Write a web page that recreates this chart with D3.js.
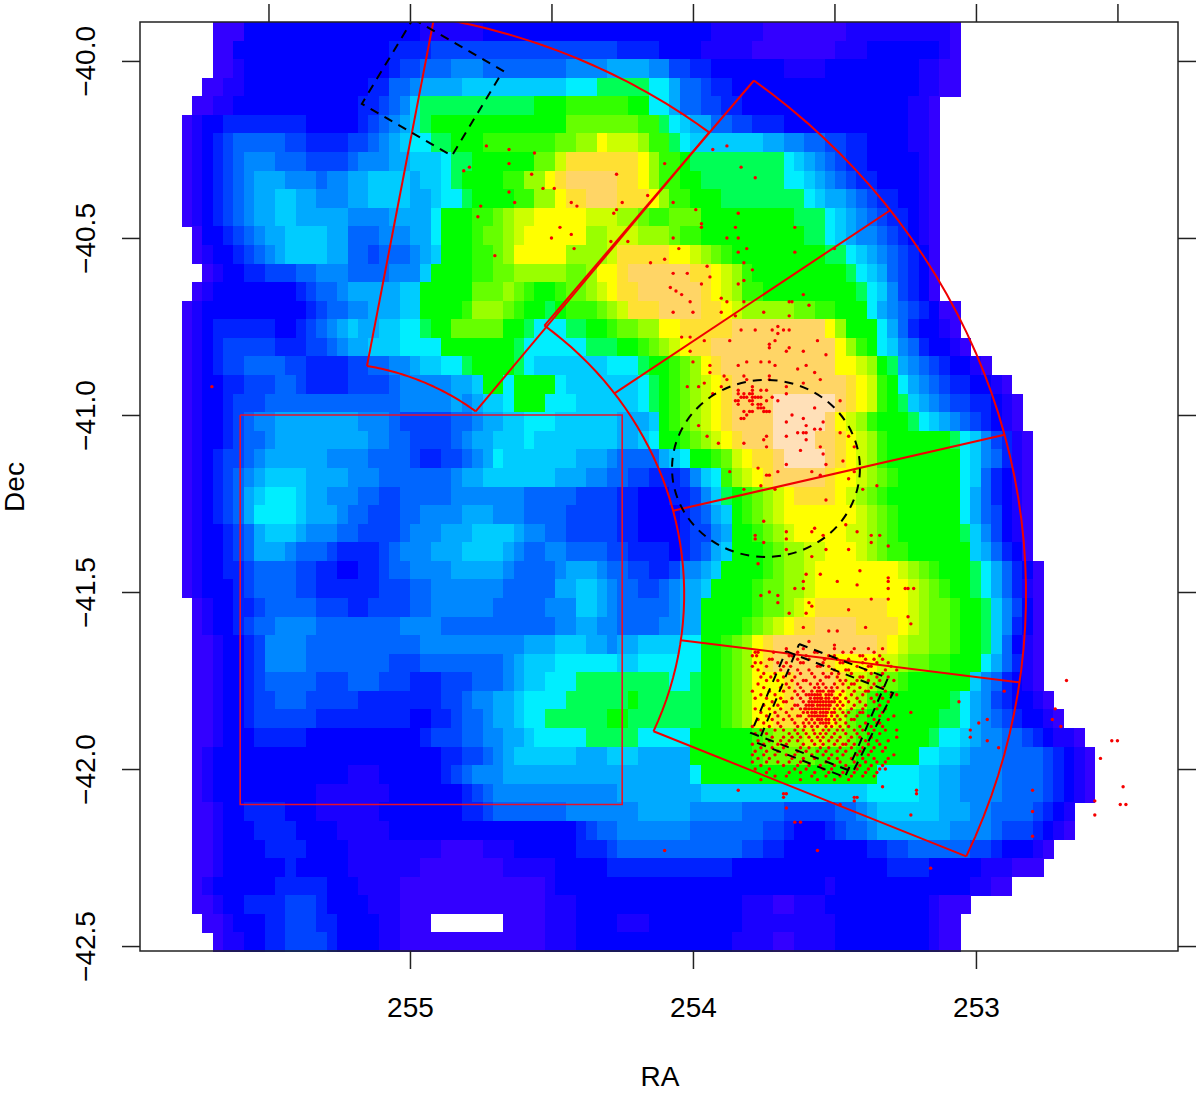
<!DOCTYPE html>
<html>
<head>
<meta charset="utf-8">
<script src="https://cdn.jsdelivr.net/npm/d3@7"></script>
<style>
  html, body { margin: 0; background: #fff; }
  text { font-family: "Liberation Sans", Arial, sans-serif; fill: #000; }
</style>
</head>
<body>
<svg width="1200" height="1093"></svg>
<script>
// density levels, low to high ("." = no data)
var levelKeys = "abcdefghijklmnopqrst".split("");
var levelColors = ["#3300ff","#1a00ff","#0000ff","#0022ff","#0044ff","#0066ff","#0088ff","#00aaff","#00ccff","#00eeff",
  "#00ff55","#00ff00","#33ff00","#66ff00","#99ff00","#ccff00","#ffff00","#ffe033","#ffd566","#ffe0b8"];

// one string per map row, top to bottom: level letter + last column (of 100) it runs to
var densityRows = [
".7 a10 c27 b33 c55 b60 a68 b78 a79 .100",
".7 a9 c24 d28 e46 d50 c54 b59 a67 b70 c77 b78 a79 .100",
".7 a9 b10 c24 d25 e27 f30 g33 f41 g45 h49 g51 e53 d55 c62 b66 c75 b77 a79 .100",
".6 a8 b10 c22 d24 f26 g27 h31 i41 j44 k49 j51 h52 f54 e55 d57 c75 b77 a79 .100",
".5 a7 b9 c21 d23 e24 f25 g26 i27 k38 l41 m47 l49 j51 h52 f54 e56 d58 c74 b76 a77 .100",
".4 a5 b6 c8 d16 c21 d22 e23 f24 g25 h26 i27 k28 l41 n48 m50 k51 j52 i53 h55 f57 e59 d62 c74 b76 a77 .100",
".4 a5 b6 c7 d8 e9 f14 e16 d20 e22 f23 g24 h25 i26 j28 k30 l33 m40 n42 o44 q45 p48 o49 m51 k52 j53 i60 h62 g64 f66 e68 d70 c74 b76 a77 .100",
".4 a5 b6 c7 d8 e9 f10 g13 f16 e20 f21 g24 h26 i29 j30 k32 l38 n40 p41 r48 q49 o50 m52 l53 k62 j63 i64 h65 g66 f67 e68 d70 c75 b76 a77 .100",
".4 a5 b6 c7 d8 e9 f10 g11 h14 g17 f18 g20 h22 i26 h27 i29 j30 k31 l35 m37 o39 q40 r41 s46 r48 q49 o50 m52 l54 k62 j64 i65 h66 g67 f68 e69 d71 c75 b76 a77 .100",
".4 a5 b6 c7 d8 e9 f10 g11 h13 i15 h17 g20 h22 i26 h28 i29 j31 k32 l36 m38 o40 q41 r43 s46 r49 q50 o51 m53 l56 k64 j65 i66 h68 g69 f70 e71 d73 c75 b76 a77 .100",
".4 a5 b6 c7 d8 e9 f10 g11 h13 i15 h20 g24 h28 j29 l32 m34 n35 o36 p38 q43 p46 o48 n49 m51 n54 l63 k66 j67 i68 h69 g70 f71 e72 d74 c75 b76 a77 .100",
".5 a6 c8 d9 e10 f11 g12 h14 i18 h20 f23 g26 h28 j29 l32 m33 n35 o36 p37 q43 o45 p48 o51 n52 m54 l64 k66 j67 i68 h69 g71 f72 e73 d74 c75 b76 a77 .100",
".5 a6 b7 c9 d10 e11 f12 g13 h14 i18 h20 f22 e23 f26 g27 h28 i29 l32 m34 n35 o36 q41 o45 p46 r51 q53 p54 o55 n56 m57 l66 k68 j69 i70 h71 g72 f73 e74 d75 c76 a77 .100",
".6 a7 b8 c10 d12 e15 f17 g20 f24 g27 i28 l32 m34 n36 o41 n43 o44 q46 r47 s53 r55 q56 p57 o58 m59 l68 k69 j70 i71 h72 f73 e74 d75 c76 a77 .100",
".5 a6 b7 c15 d16 e17 f19 g20 h25 i27 l32 n35 o36 n37 m38 l40 m41 n43 o44 p45 q46 r48 s54 r55 q56 p57 o58 m60 l69 k70 j71 i72 g73 e74 d75 c76 a77 .100",
".4 a5 b6 c16 d17 e18 f20 g22 h25 i27 l31 m32 o35 n36 m37 l39 k40 l41 m44 n45 o46 p47 r50 s54 r56 q57 p58 o63 n65 m67 l70 j71 h72 g73 f74 e75 d76 c77 a79 .100",
".4 a5 b6 c7 d13 c15 d16 e17 f18 g19 h20 i21 h23 i25 j27 k28 l30 n35 l37 k38 j41 k43 l45 m46 n48 o50 q52 r57 s66 q67 o68 l71 j72 h73 f74 d75 c77 b78 a79 .100",
".4 a5 b6 c7 d8 e13 d16 e18 f19 g20 h22 i25 j29 l36 k37 j43 k46 l48 m49 n50 o51 p52 q53 r55 s67 q68 o69 m70 l71 j72 i73 g74 f75 d76 c78 b79 a80 .100",
".4 a5 b6 c7 d8 e10 f14 e16 d20 e22 f24 g26 h27 i29 j31 k32 l36 k37 j38 i45 j48 k49 l51 m52 n53 o54 q55 r56 s67 q69 p70 o71 l72 k73 h74 g75 f76 e77 d78 c80 b81 a82 .100",
".4 a5 b6 c8 d10 e13 f15 e16 d20 e24 f25 g30 h32 i33 l35 j36 l40 j41 i48 j49 k50 l51 m52 n53 o54 p55 q56 r57 s68 r69 q70 p71 o71 m72 l73 j74 h75 g76 f77 e78 d80 c82 b83 a84 .100",
".4 a5 b6 c8 d9 e12 f25 g30 h31 g32 h33 i35 j36 l39 j42 i48 j49 k50 l51 m52 n53 o54 p55 q56 r57 s61 t67 s68 r69 q70 p71 m72 l73 k74 i75 h76 g77 f78 e80 d82 c83 b84 a85 .100",
".4 a5 b6 c8 d9 e10 f11 g13 h21 g24 f25 e30 f32 g33 h35 i37 j40 i46 h49 i50 l51 m52 n53 o54 p55 q56 r57 s61 t66 s67 q68 p69 o70 m71 l74 k75 j76 i77 h78 g79 f80 e81 d82 c83 b84 a85 .100",
".4 a5 b6 c8 d9 e10 f12 g13 h22 g24 f26 e30 f31 g32 h34 i37 j38 i46 h48 i49 j50 l52 m53 n54 o55 p56 q57 r58 s61 t65 s67 r68 q69 p70 o71 m72 l78 k79 j80 i81 g82 e83 d84 b85 a86 .100",
".4 a5 b6 c7 d8 e10 f11 g12 h18 g22 f26 e27 d29 e31 f32 g33 h34 j35 i42 h45 g46 f50 h51 i52 j53 l55 m56 n57 p58 q59 r61 s62 t66 s67 r68 q69 p70 o71 m72 l79 j80 i81 g82 f83 d84 b85 a86 .100",
".4 a5 b6 c7 d8 e9 f10 g11 h12 i16 h20 g23 f30 g31 h33 i40 h43 g45 f47 e49 d52 e53 g54 i55 j56 m57 o58 p59 q60 r61 s66 r67 q69 p70 o71 n72 m73 l79 j80 i81 f82 d83 c84 b85 a86 .100",
".4 a5 b6 c7 d8 e9 f10 h11 i12 j15 i16 h18 g21 f23 e25 f30 g37 f42 e46 d48 c51 d53 e54 g55 i56 k57 l58 m59 n60 o61 p62 q63 r67 q68 p69 o70 n71 m72 l79 j80 h81 f82 d83 c84 b85 a86 .100",
".4 a5 b6 c7 d8 e9 f10 h11 j15 i16 h19 g20 f22 e25 f27 g31 h34 g37 f41 e46 d48 c52 d53 e54 f55 h56 i57 l58 m59 n60 o61 p62 q69 p70 o71 n72 m73 l79 j80 h81 f82 e83 c84 b85 a86 .100",
".4 a5 b6 c8 d9 e10 f11 h12 i15 h16 g19 f21 e25 f26 g29 h32 i36 h37 g39 f41 e46 d48 c52 d53 e55 g56 h57 l59 m60 n61 o62 p63 q68 p70 o71 n72 m73 l79 k80 i81 g82 e83 c84 b85 a86 .100",
".4 a5 b6 c8 d9 e10 f11 h14 g15 f18 e19 d23 e24 f25 g28 h31 i35 h36 g37 f39 g41 f45 e47 d51 c52 d53 e54 f55 h56 i57 l60 m61 n62 o64 p66 q69 p70 o71 n72 m74 l80 i81 h82 f83 d84 c85 a86 .100",
".4 a5 b6 c8 d10 e11 f15 e17 d19 c21 d23 e24 f26 g30 h35 g36 f40 g41 h44 g45 f47 e49 d51 e52 g54 h55 i56 l60 m61 n62 o64 p65 q73 p74 o75 n76 m77 l80 k81 j82 h83 f84 d85 c86 a87 .100",
".4 a5 b6 c9 d10 e11 f15 e17 d23 e26 f28 g35 f40 h42 i44 h45 g46 f48 e50 f51 g52 h54 i55 l59 m60 n62 o64 p65 q74 p75 o76 n77 m78 l80 k81 j82 h83 f84 d85 b86 a87 .100",
".5 a6 b7 c9 d11 e12 f17 e20 d22 e26 f28 g34 f39 g42 i44 h45 g46 f51 g52 h54 l59 m60 n62 o63 p64 q65 r72 q74 p75 o76 n78 m79 l81 k82 i83 g84 e85 c86 a87 .100",
".5 a6 b7 c9 d10 e11 f13 g17 f25 g29 f40 g42 h44 g46 f50 g52 h54 l58 m59 n60 o61 p62 q63 r65 s69 r73 q74 p75 o76 n78 m79 l81 k82 i83 g84 d85 c86 a87 .100",
".5 a7 b8 c10 d11 e12 g16 f27 g37 h40 i43 h45 g46 h48 i52 j54 l56 m57 n58 o59 q60 r61 s71 r72 q73 p74 o76 n78 m79 l81 k82 i83 f84 c85 b86 a87 .100",
".5 a7 b8 c10 d11 e12 g16 f24 e27 f35 g36 h37 i40 j46 i48 j54 l56 m57 n58 o59 q60 r61 s66 r67 q71 p73 o74 n76 m78 l81 j82 h83 f84 d85 b86 a87 .100",
".5 a7 b8 c10 d11 e12 f17 e20 f23 e26 d29 e32 f35 g36 h37 i39 j42 k51 j53 k54 l56 m57 n58 o59 q62 r63 s67 r68 p70 o71 n73 m74 l80 i81 g82 f83 d84 c85 b86 a87 .100",
".5 a7 b8 c10 d11 e13 f16 e21 d29 e31 f32 g34 h36 i37 j41 k47 l48 k54 l56 m57 n58 o59 q62 r63 s65 r67 q68 p69 o70 m71 l78 k79 j80 h81 g82 e83 d84 c86 b87 a88 .100",
".5 a7 b8 c10 d11 e17 d26 c28 d30 e31 f33 g34 h36 i37 j39 k45 l47 k54 l56 m57 n58 o59 q61 r66 q67 p68 n69 m70 l77 k79 j80 h81 g82 f83 e84 d85 c87 b88 a89 .100",
".5 a7 b8 c11 d16 c27 d28 e31 f33 g35 h37 i38 j43 k48 j53 l59 m60 n61 o64 p66 o68 n69 m70 l76 k77 j79 i80 h81 g83 f85 e86 d87 c88 b90 a91 .100",
".5 a6 b7 c29 d31 e33 f34 g35 h36 i42 h45 i48 h53 l59 m60 n65 m69 l75 j77 i79 h80 g83 f87 e88 d89 c90 b91 a92 .100",
".5 a6 b7 c20 b23 c29 d30 e31 f32 g35 h53 j54 l71 j75 i77 h79 g83 f87 e88 d89 c90 b91 a92 .100",
".5 a6 b7 c17 b24 c31 d32 e33 f34 g46 h54 i70 j75 i77 h79 g83 f87 e88 d89 c90 b91 a92 .100",
".5 a7 b8 c10 d14 c17 b23 c31 d33 e34 f41 g48 h53 g58 f62 e67 f69 g70 h71 i77 h80 g82 f86 e87 d88 c89 b90 .100",
".5 a7 b8 c11 d15 c19 b24 c42 d43 e44 f46 g53 f60 e62 d63 c66 d67 e68 f70 g71 h78 g82 f83 e86 d87 c88 b89 a90 .100",
".5 a7 b8 c12 d16 c20 b29 a33 b36 c42 d45 e46 f58 e60 d62 c70 d72 e74 f80 e82 d83 c86 b87 a88 .100",
".5 a7 b8 c14 d15 c20 b27 a35 b40 c45 d57 c72 d76 c81 b84 a87 .100",
".5 a6 b7 c13 d18 c21 b25 a39 b40 c66 b67 c80 b82 a84 .100",
".5 a7 b8 c10 d14 e17 d18 c22 b25 a39 b42 c58 b61 a63 b66 c76 b77 a80 .100",
".6 a8 b9 c12 d14 e17 d19 c23 b25 a28 .35 a39 b42 c46 b49 c58 b63 b67 c76 b77 a79 .100",
".7 a8 b10 c12 d14 e18 d19 c23 b25 a39 b42 c57 b61 a63 b67 c76 b77 a79 .100"
];

var raTicks = [255, 254, 253];
var raMinorTicks = [255.5, 255, 254.5, 254, 253.5, 253, 252.5];
var decTicks = [-40, -40.5, -41, -41.5, -42, -42.5];

var controlBox = [[255.60,-41.0],[254.25,-41.0],[254.25,-42.10],[255.60,-42.10],[255.60,-41.0]];

// fan of regions: common centre, [ra, dec] radii of each arc, angles of the spokes in degrees
var fanCenter = [255.307, -41.506];
var mainOuter = [2.484, 1.836];
var mainInner = [1.276, 0.96];
var upperOuter = [2.216, 1.655];
var upperInner = [0.876, 0.655];
var mainAngles = [52.2, 36.2, 14.2, -7.8, -23.8];
var upperAngles = [79.8, 52];

var dashedBoxes = [
  [[254.989,-39.881],[254.671,-40.028],[254.852,-40.268],[255.170,-40.121],[254.989,-39.881]],
  [[253.625,-41.647],[253.311,-41.743],[253.463,-42.023],[253.770,-41.927],[253.625,-41.647]],
  [[253.671,-41.667],[253.293,-41.785],[253.435,-42.008],[253.795,-41.898],[253.671,-41.667]]
];
var dashedCircle = {ra: 253.742, dec: -41.151, raRadius: 0.332, decRadius: 0.25};

var fieldStars = [
[254.73,-40.24],[254.65,-40.25],[254.56,-40.26],[254.81,-40.31],[254.79,-40.30],[254.65,-40.29],[254.57,-40.32],[254.65,-40.37],[254.63,-40.40],[254.75,-40.41],[254.76,-40.44],[254.70,-40.55],
[253.93,-40.25],[253.88,-40.24],[254.10,-40.29],[253.83,-40.30],[253.78,-40.33],[254.27,-40.32],[254.53,-40.36],[254.49,-40.36],[254.43,-40.40],[254.41,-40.41],[254.25,-40.40],[254.27,-40.42],[254.28,-40.43],[254.16,-40.38],[254.07,-40.40],[253.99,-40.42],[253.84,-40.43],[253.97,-40.46],[253.97,-40.47],[253.85,-40.47],[253.64,-40.47],[254.47,-40.47],[254.43,-40.49],[254.50,-40.50],[254.29,-40.51],[254.23,-40.51],[254.07,-40.50],[253.88,-40.50],[253.84,-40.50],[254.42,-40.53],[254.05,-40.53],[253.84,-40.54],[253.81,-40.53],[253.64,-40.54],[253.50,-40.53],[254.10,-40.56],[254.15,-40.57],[253.82,-40.57],[253.79,-40.59],[253.95,-40.58],[254.07,-40.60],[254.02,-40.60],[253.94,-40.61],[253.97,-40.63],[253.84,-40.63],[253.82,-40.62],[254.08,-40.64],[254.06,-40.65],[254.04,-40.66],[253.61,-40.66],[253.90,-40.67],[254.01,-40.68],[253.88,-40.68],[253.82,-40.68],[253.66,-40.68],[253.65,-40.68],[253.59,-40.69],[254.07,-40.71],[254.00,-40.71],[253.90,-40.71],[253.85,-40.72],[253.75,-40.71],[253.66,-40.72],
[253.83,-40.76],[253.78,-40.76],[253.72,-40.76],[253.70,-40.75],[253.70,-40.77],[253.68,-40.76],[253.66,-40.76],[254.04,-40.78],[254.01,-40.78],[253.96,-40.79],[253.87,-40.79],[253.71,-40.79],[253.56,-40.79],[253.73,-40.80],[253.73,-40.81],[253.66,-40.81],[253.67,-40.82],[253.61,-40.82],[254.01,-40.82],[253.53,-40.83],[254.00,-40.85],[253.76,-40.85],[253.73,-40.85],[253.84,-40.86],[253.81,-40.85],[253.71,-40.86],[253.94,-40.86],[253.63,-40.87],[253.60,-40.86],[253.94,-40.88],[253.57,-40.88],[253.89,-40.89],[253.88,-40.90],[253.82,-40.89],[253.81,-40.90],[253.73,-40.89],[253.73,-40.90],[253.96,-40.91],[253.55,-40.90],[253.90,-40.92],[253.61,-40.91],[253.67,-40.92],[254.02,-40.92],[253.98,-40.92],[253.67,-40.94],[253.93,-40.94],
[253.84,-40.94],[253.84,-40.93],[253.82,-40.94],[253.83,-40.95],[253.84,-40.96],[253.85,-40.96],[253.84,-40.97],[253.82,-40.95],[253.81,-40.95],[253.80,-40.96],[253.79,-40.92],[253.79,-40.93],[253.79,-40.94],[253.80,-40.94],[253.79,-40.95],[253.78,-40.95],[253.77,-40.95],[253.76,-40.95],[253.79,-40.96],[253.79,-40.97],[253.77,-40.97],[253.76,-40.97],[253.75,-40.98],[253.77,-40.98],[253.76,-40.98],[253.79,-40.99],[253.80,-40.99],[253.81,-41.00],[253.82,-40.99],[253.82,-41.01],[253.83,-41.01],[253.76,-40.93],[253.74,-40.93],[253.74,-40.96],[253.75,-40.99],[253.73,-40.99],[253.72,-40.95],[253.70,-40.96],[253.74,-40.99],
[253.48,-40.96],[253.57,-40.98],[253.65,-41.00],[253.61,-41.01],[253.67,-41.02],[253.54,-41.02],[253.60,-41.03],[253.98,-41.03],[253.57,-41.04],[253.55,-41.04],[253.61,-41.05],[253.63,-41.05],[253.60,-41.05],[253.48,-41.05],[253.45,-41.06],[253.95,-41.06],[253.74,-41.06],[253.75,-41.07],[253.67,-41.06],[253.60,-41.07],[253.91,-41.08],[253.82,-41.08],[253.43,-41.09],[253.74,-41.09],[253.55,-41.09],[253.62,-41.10],[253.54,-41.11],[253.53,-41.14],[253.47,-41.13],[253.67,-41.14],[253.77,-41.15],[253.43,-41.16],[253.87,-41.16],[253.70,-41.16],[253.58,-41.16],[253.74,-41.17],[253.73,-41.17],[253.55,-41.17],[253.45,-41.18],[253.35,-41.20],[253.76,-41.20],[253.40,-41.21],[253.82,-41.21],[253.71,-41.21],[253.53,-41.24],
[253.75,-41.30],[253.46,-41.31],[253.42,-41.33],[253.57,-41.32],[253.58,-41.33],[253.67,-41.33],[253.34,-41.34],[253.37,-41.34],[253.78,-41.34],[253.54,-41.34],[253.67,-41.35],[253.78,-41.35],[253.75,-41.36],[253.37,-41.36],[253.53,-41.38],[253.45,-41.38],[253.67,-41.38],[253.31,-41.37],[253.58,-41.40],[253.77,-41.42],[253.41,-41.44],[253.60,-41.45],[253.55,-41.45],[253.49,-41.47],[253.31,-41.46],[253.31,-41.47],[253.61,-41.47],[253.42,-41.48],[253.61,-41.49],[253.64,-41.49],[253.73,-41.50],[253.70,-41.51],[253.31,-41.49],[253.24,-41.49],[253.25,-41.49],[253.22,-41.49],[253.76,-41.51],[253.37,-41.52],[253.31,-41.52],[253.70,-41.53],[253.59,-41.53],[253.58,-41.54],[253.45,-41.55],[253.66,-41.56],[253.60,-41.56],[253.24,-41.57],[253.23,-41.59],[253.39,-41.60],[253.61,-41.60],[253.52,-41.61],[253.49,-41.61],[253.59,-41.64],[253.50,-41.65],[253.33,-41.66],
[252.68,-41.75],[252.90,-41.78],[253.06,-41.81],[253.23,-41.84],[252.99,-41.87],[252.96,-41.86],[253.02,-41.89],[253.02,-41.91],[252.96,-41.92],[252.92,-41.94],[252.72,-41.83],[252.73,-41.86],[252.70,-41.88],[252.50,-41.92],[252.52,-41.92],[252.56,-41.97],[252.48,-42.05],[252.58,-42.09],[252.49,-42.10],[252.47,-42.10],[252.58,-42.13],[252.80,-42.06],[252.80,-42.12],[252.80,-42.19],[253.21,-42.06],[253.21,-42.07],[253.33,-42.05],[253.43,-42.08],[253.43,-42.09],[253.42,-42.08],[253.23,-42.13],[253.48,-42.10],[253.62,-42.15],[253.56,-42.23],[253.16,-42.28],[253.32,-42.00],[253.28,-41.89],[253.28,-41.79],[253.84,-42.06],[253.68,-42.07],[253.67,-42.07],[253.68,-42.08],[253.67,-42.11],[253.64,-42.15],[254.10,-42.23],[253.76,-42.03],[255.70,-40.92]
];

// dense cluster: dec of each band, and RA of its stars in hundredths of a degree above 253
var clusterDec = [-41.66,-41.67,-41.68,-41.69,-41.70,-41.71,-41.72,-41.73,-41.74,-41.75,-41.76,-41.77,-41.78,-41.79,-41.80,-41.81,-41.82,-41.83,-41.84,-41.85,-41.86,-41.87,-41.88,-41.89,-41.90,-41.91,-41.92,-41.93,-41.94,-41.95,-41.96,-41.97,-41.98,-41.99,-42.00,-42.01,-42.02,-42.03];
var clusterRa = [
[67,61,50,43,38],
[78,77,71.5,63,57,56,47,44,36],
[79,77.5,66,65,60,52,50,41,40,34],
[73,72,63,59,53.5,49,45,39,36,33],
[78,76,70,67,62,61,54,48,47,40,35,31],
[79,74,68,65.5,56,55,52,42,38,37,30],
[77,69,63,59,50,46,45,39,32,28],
[75,71,66,62,58,54,51,48.5,44,37,33],
[76,72.5,68,64,57,53,52,49,41,40,35,31],
[74,70,65,61,60,55,48,46,42,38,34,29],
[77,67,63,58.5,56,54,50,47,44,43,36],
[75,69,66,62,57,55.5,53,51,49,45,41,37,33],
[79,73,68,64,61,58,56,55,54,52,51,50.5,47,43,39,38,32],
[76,71,63,60,59,58,57,56,55,53,52,51,48,44,40,35,30],
[78,74,69,65,62,58.5,57,56,55,54.5,53,52,50,49,46,42,37,33],
[72,68,67,61,59,58,57,56,55,54,53,52,51,50,48,45,41,36,31],
[75,70,64,63,60,59,58,57.5,56,55,54,53,52,51.5,49,47,43,39,34],
[78,73,69,65,62,60.5,60,59,58,57,56,55,54,53,52,50,48,44,40,35,32],
[76,71,67,61,59.5,58,57,56.5,55,54,53,52.5,51,50,47,45,41,40,33],
[74,70,66,63,62,59,58,57,56,55,54,53,51,49,46,42,38,34,29],
[77,72,68,65,60,58,56,55.5,54.5,53,52,50,48,44,43,36,31],
[75,70,64,61,59,57,55,54,53,52,49.5,46,39,35,34],
[79,73,69,63,60.5,58,56,53,51,48,45,41,37,33],
[76,71,68,64,61,57.5,54,52,49,47,43,40,36,32],
[78,74,66,63,60,57,55,53,50,46,42,38,34],
[72,68,65,62,59,56,54,51,48,44,41,37,28],
[77,73,69,66,63,58,55,52,49,45,39,35,31],
[79,75,70,67,61,57,54,50,47,46,43,38,34],
[76,72,68,62,59,55,52,48,44,40,36,32],
[78,74,70,63,60,56,53,49,46,41,37,33],
[79,75,71,67,64,58,54,51,47,42,38,29],
[77,73,65,61,57,52,49,44,40,36,31],
[79,74,70,66,62,53,48,43,39,35,32],
[76,68,63,59,55,50,46,41,37,33],
[78,73,64,60,54,51,45,42,38,34],
[74,66,62,57,52,47,43,39,35],
[71,67,58,53,48,44,40,36],
[62,56,50,45]
];

var svg = d3.select("svg");

var x = d3.scaleLinear().domain([255.954, 252.286]).range([140, 1178]);
var y = d3.scaleLinear().domain([-39.89, -42.514]).range([22, 951]);
var color = d3.scaleOrdinal(levelKeys, levelColors);

var colBand = d3.scaleBand().domain(d3.range(100)).range([140, 1178]);
var rowBand = d3.scaleBand().domain(d3.range(densityRows.length)).range([22, 951]);

// expand "a10 c27 ..." into one cell per column
function expandRow(str, r) {
  var cells = [], col = 0;
  str.split(" ").forEach(function(run) {
    var level = run[0], end = +run.slice(1);
    for (; col < end; col++) {
      if (level !== ".") cells.push({row: r, col: col, level: level});
    }
  });
  return cells;
}
var cells = d3.merge(densityRows.map(expandRow));

svg.append("g")
    .attr("shape-rendering", "crispEdges")
  .selectAll("rect")
  .data(cells)
  .enter().append("rect")
    .attr("x", function(d) { return colBand(d.col); })
    .attr("y", function(d) { return rowBand(d.row); })
    .attr("width", colBand.bandwidth() + 0.5)
    .attr("height", rowBand.bandwidth() + 0.5)
    .attr("fill", function(d) { return color(d.level); });

svg.append("defs").append("clipPath")
    .attr("id", "plot")
  .append("rect")
    .attr("x", 140).attr("y", 22).attr("width", 1038).attr("height", 929);

var overlay = svg.append("g").attr("clip-path", "url(#plot)");

var sky = d3.line().x(function(d) { return x(d[0]); }).y(function(d) { return y(d[1]); });

function redPath(points, width, stroke) {
  overlay.append("path")
    .attr("d", sky(points))
    .attr("fill", "none")
    .attr("stroke", stroke || "#f00000")
    .attr("stroke-width", width);
}

function fanPoint(radius, deg) {
  var t = deg * Math.PI / 180;
  return [fanCenter[0] - radius[0] * Math.cos(t), fanCenter[1] + radius[1] * Math.sin(t)];
}
function fanArc(radius, a0, a1) {
  return d3.range(41).map(function(i) { return fanPoint(radius, a0 + (a1 - a0) * i / 40); });
}

redPath(controlBox, 1.6, "#e8102a");
redPath(fanArc(mainOuter, mainAngles[0], mainAngles[4]), 2);
redPath(fanArc(mainInner, mainAngles[0], mainAngles[4]), 2);
mainAngles.forEach(function(a) { redPath([fanPoint(mainInner, a), fanPoint(mainOuter, a)], 2); });
redPath(fanArc(upperOuter, upperAngles[0], upperAngles[1]), 2);
redPath(fanArc(upperInner, upperAngles[0], upperAngles[1]), 2);
upperAngles.forEach(function(a) { redPath([fanPoint(upperInner, a), fanPoint(upperOuter, a)], 2); });

// stars
var clusterStars = d3.merge(clusterRa.map(function(list, i) {
  return list.map(function(v) { return [253 + v / 100, clusterDec[i]]; });
}));

overlay.append("g").selectAll("circle")
  .data(fieldStars.concat(clusterStars))
  .enter().append("circle")
    .attr("cx", function(d) { return x(d[0]); })
    .attr("cy", function(d) { return y(d[1]); })
    .attr("r", 1.7)
    .attr("fill", "#f50000");

dashedBoxes.forEach(function(b) {
  overlay.append("path")
    .attr("d", sky(b))
    .attr("fill", "none")
    .attr("stroke", "#000")
    .attr("stroke-width", 2)
    .attr("stroke-dasharray", "9,7");
});

overlay.append("ellipse")
    .attr("cx", x(dashedCircle.ra))
    .attr("cy", y(dashedCircle.dec))
    .attr("rx", Math.abs(x(dashedCircle.ra + dashedCircle.raRadius) - x(dashedCircle.ra)))
    .attr("ry", Math.abs(y(dashedCircle.dec + dashedCircle.decRadius) - y(dashedCircle.dec)))
    .attr("fill", "none")
    .attr("stroke", "#000")
    .attr("stroke-width", 2)
    .attr("stroke-dasharray", "9,7");

// frame and axes
svg.append("rect")
    .attr("x", 140).attr("y", 22).attr("width", 1038).attr("height", 929)
    .attr("fill", "none").attr("stroke", "#222").attr("stroke-width", 1.5);

var bottom = svg.append("g").attr("transform", "translate(0,951)")
    .call(d3.axisBottom(x).tickValues(raTicks).tickSize(18).tickPadding(28).tickFormat(d3.format("d")));
var top_ = svg.append("g").attr("transform", "translate(0,22)")
    .call(d3.axisTop(x).tickValues(raMinorTicks).tickSize(18).tickFormat(""));
var left = svg.append("g").attr("transform", "translate(140,0)")
    .call(d3.axisLeft(y).tickValues(decTicks).tickSize(18).tickFormat(function(d) {
      return "\u2212" + d3.format(".1f")(-d);
    }));
var right = svg.append("g").attr("transform", "translate(1178,0)")
    .call(d3.axisRight(y).tickValues(decTicks).tickSize(18).tickFormat(""));

[bottom, top_, left, right].forEach(function(a) {
  a.select(".domain").remove();
  a.selectAll("line").attr("stroke", "#222").attr("stroke-width", 1.5);
  a.selectAll("text").attr("font-size", 28).attr("font-family", "Liberation Sans").attr("fill", "#000");
});

left.selectAll("text")
    .attr("text-anchor", "middle")
    .attr("dy", null)
    .attr("x", null)
    .attr("transform", "translate(-45,0) rotate(-90)");

svg.append("text")
    .attr("x", 660).attr("y", 1086)
    .attr("text-anchor", "middle")
    .attr("font-size", 28)
    .text("RA");

svg.append("text")
    .attr("transform", "translate(24,487) rotate(-90)")
    .attr("text-anchor", "middle")
    .attr("font-size", 28)
    .text("Dec");
</script>
</body>
</html>
